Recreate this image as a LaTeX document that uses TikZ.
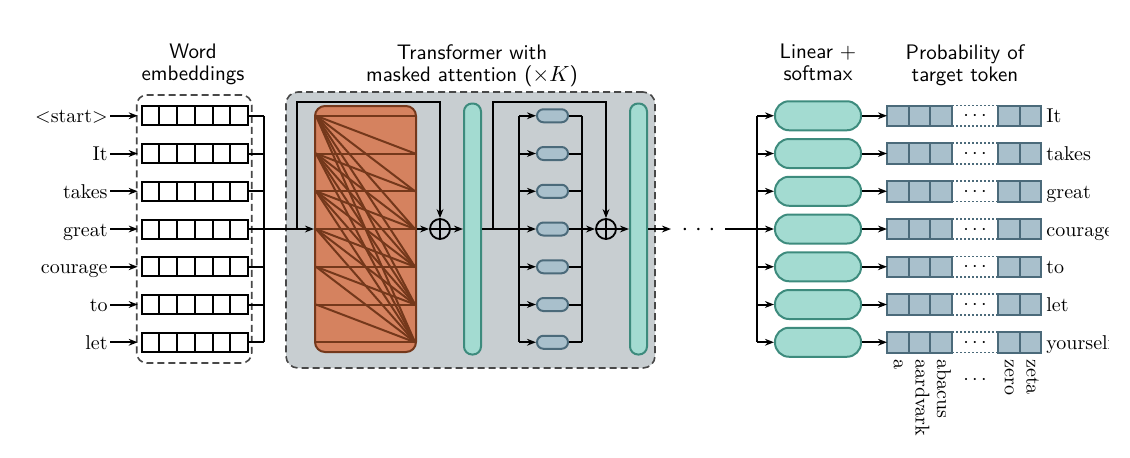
\documentclass[tikz,border=0pt]{standalone}
\usetikzlibrary{arrows.meta}
\definecolor{tgray}{HTML}{C8CED1}
\definecolor{attfill}{HTML}{D5825F}
\definecolor{attdraw}{HTML}{74381B}
\definecolor{tealfill}{HTML}{A3DBD1}
\definecolor{tealdraw}{HTML}{3D8B7D}
\definecolor{bluefill}{HTML}{A9C0CC}
\definecolor{bluedraw}{HTML}{4B6A7A}
\definecolor{dashc}{HTML}{484848}
\begin{document}
\begin{tikzpicture}[x=0.5pt,y=-0.5pt,>={Stealth[length=4.5pt,width=3.4pt]},
 conn/.style={line width=1pt},
 embcell/.style={draw,line width=1pt,minimum width=8.86pt,minimum height=9.5pt,inner sep=0pt,outer sep=0pt},
 dashbox/.style={draw=dashc,line width=0.8pt,dash pattern=on 3.5pt off 2pt,rounded corners=5pt,inner sep=0pt},
 attbox/.style={draw=attdraw,fill=attfill,line width=1pt,rounded corners=5pt,minimum width=50.5pt,minimum height=123pt,inner sep=0pt},
 attline/.style={draw=attdraw,line width=1pt},
 tealbar/.style={draw=tealdraw,fill=tealfill,line width=1pt,rounded corners=4pt,minimum width=8.5pt,minimum height=125.5pt,inner sep=0pt},
 ffbox/.style={draw=bluedraw,fill=bluefill,line width=1pt,rounded corners=3.2pt,minimum width=15.5pt,minimum height=6.5pt,inner sep=0pt},
 linbox/.style={draw=tealdraw,fill=tealfill,line width=1pt,rounded corners=7pt,minimum width=43pt,minimum height=14.5pt,inner sep=0pt},
 pcell/.style={draw=bluedraw,fill=bluefill,line width=1pt,minimum width=10.85pt,minimum height=10.25pt,inner sep=0pt,outer sep=0pt},
 oplus/.style={circle,draw,line width=0.9pt,minimum size=10pt,inner sep=0pt,path picture={\draw[line width=0.9pt] (path picture bounding box.north)--(path picture bounding box.south) (path picture bounding box.west)--(path picture bounding box.east);}},
 lab/.style={inner sep=0pt,text height=7pt,text depth=0pt},
 ttl/.style={font=\sffamily\fontsize{10.5}{11}\selectfont,align=center,inner sep=0pt},
 vlab/.style={rotate=-90,anchor=base west,inner sep=0pt}
]
\useasboundingbox (0,0) rectangle (1130,457);
\fill[white] (0,0) rectangle (1130,457);

% titles
\node[ttl,anchor=north] (tt1) at (193,44) {Word\\embeddings};
\node[ttl,anchor=north] (tt2) at (472,44) {Transformer with\\masked attention ($\times K$)};
\node[ttl,anchor=north] (tt3) at (818,44) {Linear +\\softmax};
\node[ttl,anchor=north] (tt4) at (965,44) {Probability of\\target token};

% boxes
\node[dashbox,fill=tgray,rounded corners=6pt,minimum width=184.5pt,minimum height=138pt] (tbox) at (470.5,230) {};
\node[dashbox,minimum width=57.5pt,minimum height=134pt] (ebox) at (194.2,229) {};

% embeddings
\foreach \w [count=\i] in {{$<$start$>$},It,takes,great,courage,to,let}{
  \pgfmathsetmacro\yy{229+37.75*(\i-4)}
  \node[lab,anchor=east,inner xsep=1pt] (l\i) at (110,\yy) {\w};
  \foreach \j in {1,...,6}{
    \node[embcell] (e\i-\j) at ({141.7+17.72*(\j-0.5)},\yy) {};
  }
  \draw[conn,->,shorten >=2pt] (l\i.east) -- (e\i-1.west);
  \coordinate (bl\i) at (264,\yy);
  \draw[conn] (e\i-6.east) -- (bl\i);
}
\draw[conn] (bl1) -- (bl7);
\coordinate (b1) at (297,229);
\draw[conn] (bl4) -- (b1);

% masked attention
\node[attbox] (att) at (365.5,229) {};
\foreach \i in {1,...,7}{
  \foreach \j in {\i,...,7}{
    \draw[attline] (316,{229+37.75*(\i-4)}) -- (415,{229+37.75*(\j-4)});
  }
}
\draw[conn,->] (b1) -- (att.west);
\node[oplus] (op1) at (440,229) {};
\coordinate (t1) at (297,102);
\draw[conn,->] (b1) -- (t1) -| (op1.north);
\draw[conn,->] (att.east) -- (op1.west);
\node[tealbar] (bar1) at (472.5,229) {};
\draw[conn,->] (op1.east) -- (bar1.west);

% feed forward
\coordinate (b2) at (493,229);
\coordinate (f0) at (519,229);
\draw[conn] (bar1.east) -- (f0);
\node[oplus] (op2) at (606,229) {};
\coordinate (t2) at (493,102);
\draw[conn,->] (b2) -- (t2) -| (op2.north);
\foreach \i in {1,...,7}{
  \pgfmathsetmacro\yy{229+37.75*(\i-4)}
  \node[ffbox] (ff\i) at (552.5,\yy) {};
  \coordinate (fl\i) at (519,\yy);
  \coordinate (fr\i) at (582,\yy);
  \draw[conn,->] (fl\i) -- (ff\i.west);
  \draw[conn] (ff\i.east) -- (fr\i);
}
\draw[conn] (fl1) -- (fl7);
\draw[conn] (fr1) -- (fr7);
\draw[conn,->] (fr4) -- (op2.west);
\node[tealbar] (bar2) at (638.5,229) {};
\draw[conn,->] (op2.east) -- (bar2.west);

% dots
\coordinate (d0) at (671,229);
\draw[conn,->] (bar2.east) -- (d0);
\node[anchor=base,inner sep=0pt] (dots) at (698.5,235) {\large${\cdot}\hspace{3.4pt}{\cdot}\hspace{3.4pt}{\cdot}$};
\coordinate (d1) at (725,229);
\coordinate (s0) at (757,229);
\draw[conn] (d1) -- (s0);

% linear + softmax and probabilities
\foreach \w [count=\i] in {It,takes,great,courage,to,let,yourself}{
  \pgfmathsetmacro\yy{229+37.75*(\i-4)}
  \node[linbox] (lin\i) at (818,\yy) {};
  \coordinate (sl\i) at (757,\yy);
  \draw[conn,->] (sl\i) -- (lin\i.west);
  \foreach \j in {1,2,3}{
    \node[pcell] (p\i-\j) at ({887+21.7*(\j-0.5)},\yy) {};
  }
  \foreach \j in {4,5}{
    \node[pcell] (p\i-\j) at ({998+21.7*(\j-3.5)},\yy) {};
  }
  \draw[bluedraw,line width=0.8pt,dash pattern=on 0.8pt off 1.2pt] (p\i-3.north east) -- (p\i-4.north west);
  \draw[bluedraw,line width=0.8pt,dash pattern=on 0.8pt off 1.2pt] (p\i-3.south east) -- (p\i-4.south west);
  \node[anchor=base,inner sep=0pt] (pd\i) at (975,{\yy+5}) {$\cdots$};
  \draw[conn,->] (lin\i.east) -- (p\i-1.west);
  \begin{scope}
    \clip (1030,{\yy-25}) rectangle (1108,{\yy+25});
    \node[lab,anchor=west] (r\i) at (1046,\yy) {\w};
  \end{scope}
}
\draw[conn] (sl1) -- (sl7);

% vocabulary labels
\node[vlab] (va) at (893.9,359) {a};
\node[vlab] (vb) at (915.5,359) {aardvark};
\node[vlab] (vc) at (937.2,359) {abacus};
\node[anchor=base,inner sep=0pt] (vd) at (975,384) {$\cdots$};
\node[vlab] (ve) at (1004.9,359) {zero};
\node[vlab] (vf) at (1026.5,359) {zeta};
\end{tikzpicture}
\end{document}
